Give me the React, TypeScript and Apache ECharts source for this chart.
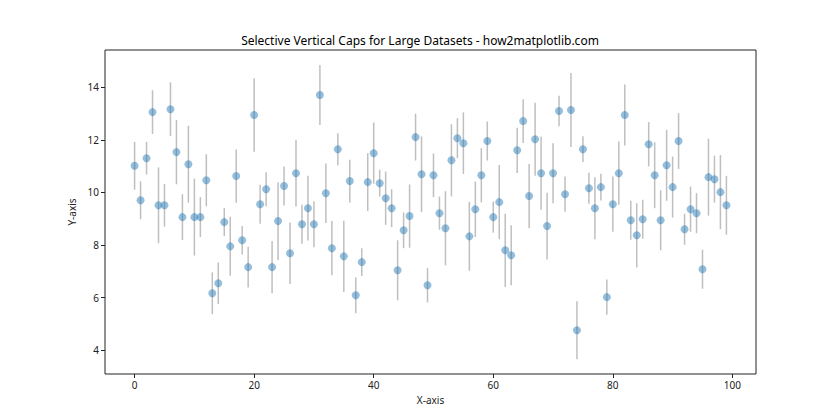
import React, { useEffect, useRef } from "react";
import * as echarts from "echarts";

const xValues: number[] = Array.from({ length: 100 }, (_, i) => i);
const yValues: number[] = [
  11.01, 9.70, 11.30, 13.05, 9.51, 9.51, 13.16, 11.53, 9.06, 11.07,
  9.06, 9.06, 10.46, 6.17, 6.55, 8.87, 7.95, 10.62, 8.18, 7.16,
  12.94, 9.55, 10.12, 7.16, 8.91, 10.24, 7.69, 10.73, 8.79, 9.40,
  8.79, 13.70, 9.97, 7.88, 11.64, 7.57, 10.43, 6.09, 7.35, 10.39,
  11.49, 10.35, 9.78, 9.40, 7.04, 8.56, 9.10, 12.10, 10.69, 6.47,
  10.65, 9.21, 8.64, 11.22, 12.06, 11.87, 8.33, 9.36, 10.65, 11.95,
  9.06, 9.63, 7.80, 7.61, 11.60, 12.71, 9.86, 12.02, 10.73, 8.72,
  10.73, 13.09, 9.93, 13.13, 4.76, 11.64, 10.16, 9.40, 10.20, 6.02,
  9.55, 10.73, 12.94, 8.94, 8.37, 8.98, 11.83, 10.65, 8.94, 11.03,
  10.20, 11.95, 8.60, 9.36, 9.21, 7.08, 10.58, 10.50, 10.01, 9.51,
];
const yErrors: number[] = [
  0.91, 0.72, 0.62, 0.83, 1.44, 0.81, 1.02, 1.22, 0.87, 1.46,
  1.46, 0.76, 0.99, 0.79, 0.79, 0.53, 1.12, 1.01, 0.54, 0.77,
  1.40, 0.74, 0.65, 0.99, 1.48, 0.74, 1.17, 1.27, 0.74, 1.23,
  0.87, 1.14, 1.13, 1.03, 0.61, 1.35, 0.81, 0.68, 0.53, 1.10,
  1.16, 0.51, 1.01, 0.72, 1.14, 0.68, 1.20, 0.89, 1.44, 0.65,
  0.83, 0.63, 1.41, 1.37, 0.76, 1.17, 1.31, 1.05, 1.03, 0.74,
  0.59, 1.41, 1.39, 1.14, 0.86, 0.83, 1.22, 1.39, 1.39, 1.27,
  1.14, 0.58, 0.67, 1.41, 1.10, 0.49, 0.59, 1.18, 0.51, 0.67,
  1.05, 1.20, 1.16, 0.74, 1.22, 0.74, 0.84, 1.25, 1.14, 1.35,
  1.16, 1.06, 0.59, 0.86, 0.76, 0.74, 1.46, 0.89, 1.41, 1.12,
];
const xTicks: number[] = [0, 20, 40, 60, 80, 100];
const yTicks: number[] = [4, 6, 8, 10, 12, 14];

const TITLE = "Selective Vertical Caps for Large Datasets - how2matplotlib.com";
const FONT = "'Noto Sans', 'Open Sans', sans-serif";

export default function App() {
  const ref = useRef<HTMLDivElement>(null);
  useEffect(() => {
    if (!ref.current) return;
    const chart = echarts.init(ref.current, undefined, { renderer: "svg" });
    const errData = xValues.map((x, i) => [x, yValues[i] - yErrors[i], yValues[i] + yErrors[i]]);
    const ptData = xValues.map((x, i) => [x, yValues[i]]);
    chart.setOption({
      animation: false,
      backgroundColor: "#ffffff",
      textStyle: { fontFamily: FONT },
      title: {
        text: TITLE,
        left: "center",
        top: 29,
        textStyle: { fontFamily: FONT, fontSize: 12, fontWeight: "normal", color: "#000" },
      },
      grid: {
        left: 105,
        right: 84,
        top: 50,
        bottom: 46,
        show: true,
        borderColor: "#222",
        borderWidth: 1,
        backgroundColor: "transparent",
      },
      xAxis: {
        type: "value",
        min: -4.95,
        max: 103.95,
        name: "X-axis",
        nameLocation: "middle",
        nameGap: 20,
        nameTextStyle: { fontFamily: FONT, fontSize: 10, color: "#222" },
        splitLine: { show: false },
        axisLine: { show: false, onZero: false },
        axisTick: { show: true, inside: false, length: 4, lineStyle: { color: "#222" }, customValues: xTicks },
        axisLabel: { fontFamily: FONT, fontSize: 10, color: "#222", margin: 6, customValues: xTicks },
      },
      yAxis: {
        type: "value",
        min: 3.1,
        max: 15.41,
        name: "Y-axis",
        nameLocation: "middle",
        nameGap: 28,
        nameRotate: 90,
        nameTextStyle: { fontFamily: FONT, fontSize: 10, color: "#222" },
        splitLine: { show: false },
        axisLine: { show: false, onZero: false },
        axisTick: { show: true, inside: false, length: 4, lineStyle: { color: "#222" }, customValues: yTicks },
        axisLabel: { fontFamily: FONT, fontSize: 10, color: "#222", margin: 6, customValues: yTicks },
      },
      series: [
        {
          type: "custom",
          data: errData,
          encode: { x: 0, y: [1, 2] },
          renderItem: (params: any, api: any) => {
            const x = api.value(0);
            const p1 = api.coord([x, api.value(1)]);
            const p2 = api.coord([x, api.value(2)]);
            return {
              type: "line",
              shape: { x1: p1[0], y1: p1[1], x2: p2[0], y2: p2[1] },
              style: { stroke: "rgba(128,128,128,0.5)", lineWidth: 1.5 },
            };
          },
          z: 1,
        },
        {
          type: "scatter",
          data: ptData,
          symbol: "circle",
          symbolSize: 8,
          itemStyle: { color: "rgba(31,119,180,0.6)", borderWidth: 0 },
          z: 2,
        },
      ],
    });
    return () => chart.dispose();
  }, []);
  return <div ref={ref} style={{ position: "fixed", left: 0, top: 0, width: 840, height: 420 }} />;
}
